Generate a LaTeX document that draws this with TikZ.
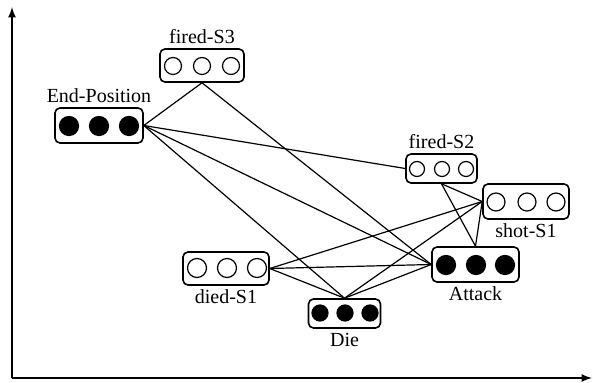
\documentclass[tikz,border=0pt]{standalone}
\usepackage{fontspec}
\setmainfont{Liberation Serif}
\begin{document}
\begin{tikzpicture}[x=0.5pt,y=-0.5pt,label distance=-1.5pt]
	\tikzstyle{block}=[draw=black,rounded corners=2.5pt,line width=0.8pt,inner sep=0pt]
	\tikzstyle{dot}=[circle,draw=black,inner sep=0pt,minimum size=9.5pt,line width=0.6pt]
	\tikzstyle{small}=[dot,minimum size=8pt]
	\tikzstyle{full}=[dot,fill=black]
	\tikzstyle{link}=[line width=0.6pt]
	\useasboundingbox (0,0) rectangle (593,383);
	% axes
	\coordinate (o) at (12,378);
	\coordinate (ytop) at (12,7);
	\coordinate (xend) at (592,378);
	\draw[-latex,line width=0.8pt](o) -- (ytop);
	\draw[-latex,line width=0.8pt](o) -- (xend);
	% boxes
	\node[block,minimum width=42pt,minimum height=16.5pt,label=above:fired-S3](fs3) at (202,65.5) {};
	\node[block,minimum width=44pt,minimum height=17.5pt,label=above:End-Position](endpos) at (99,125.5) {};
	\node[block,minimum width=35.5pt,minimum height=14.5pt,label=above:fired-S2](fs2) at (441.5,168.5) {};
	\node[block,minimum width=43pt,minimum height=17.5pt,label=below:shot-S1](shot) at (526,201.5) {};
	\node[block,minimum width=43.5pt,minimum height=17.5pt,label=below:Attack](attack) at (475.5,264.5) {};
	\node[block,minimum width=43pt,minimum height=16.5pt,label=below:died-S1](died) at (226,268.5) {};
	\node[block,minimum width=36pt,minimum height=14.5pt,label=below:Die](die) at (344.5,313.5) {};
	% circles
	\node[small,minimum size=8.5pt](fs3a) at (173,66) {};
	\node[small,minimum size=8.5pt](fs3b) at (202,66) {};
	\node[small,minimum size=8.5pt](fs3c) at (231,66) {};
	\node[full](epa) at (69,126) {};
	\node[full](epb) at (99,126) {};
	\node[full](epc) at (129,126) {};
	\node[small,minimum size=7.5pt](fs2a) at (417,169) {};
	\node[small,minimum size=7.5pt](fs2b) at (442,169) {};
	\node[small,minimum size=7.5pt](fs2c) at (466,169) {};
	\node[dot,minimum size=9pt](sha) at (496,202) {};
	\node[dot,minimum size=9pt](shb) at (527,202) {};
	\node[dot,minimum size=9pt](shc) at (556,202) {};
	\node[full](ata) at (446,265) {};
	\node[full](atb) at (476,265) {};
	\node[full](atc) at (505,265) {};
	\node[dot](dia) at (197,268) {};
	\node[dot](dib) at (227,268) {};
	\node[dot](dic) at (257,268) {};
	\node[full,minimum size=8pt](dea) at (320,313) {};
	\node[full,minimum size=8pt](deb) at (345,313) {};
	\node[full,minimum size=8pt](dec) at (370,313) {};
	% links
	\draw[link](fs3.south) -- (endpos.east);
	\draw[link](fs3.south) -- (attack.west);
	\draw[link](endpos.east) -- (fs2.west);
	\draw[link](endpos.east) -- (attack.west);
	\draw[link](endpos.east) -- (die.north);
	\draw[link](fs2.south) -- (shot.west);
	\draw[link](fs2.south) -- (attack.north);
	\draw[link](shot.west) -- (attack.north);
	\draw[link](shot.west) -- (died.east);
	\draw[link](shot.west) -- (die.north);
	\draw[link](died.east) -- (attack.west);
	\draw[link](died.east) -- (die.north);
	\draw[link](attack.west) -- (die.north);
\end{tikzpicture}
\end{document}
